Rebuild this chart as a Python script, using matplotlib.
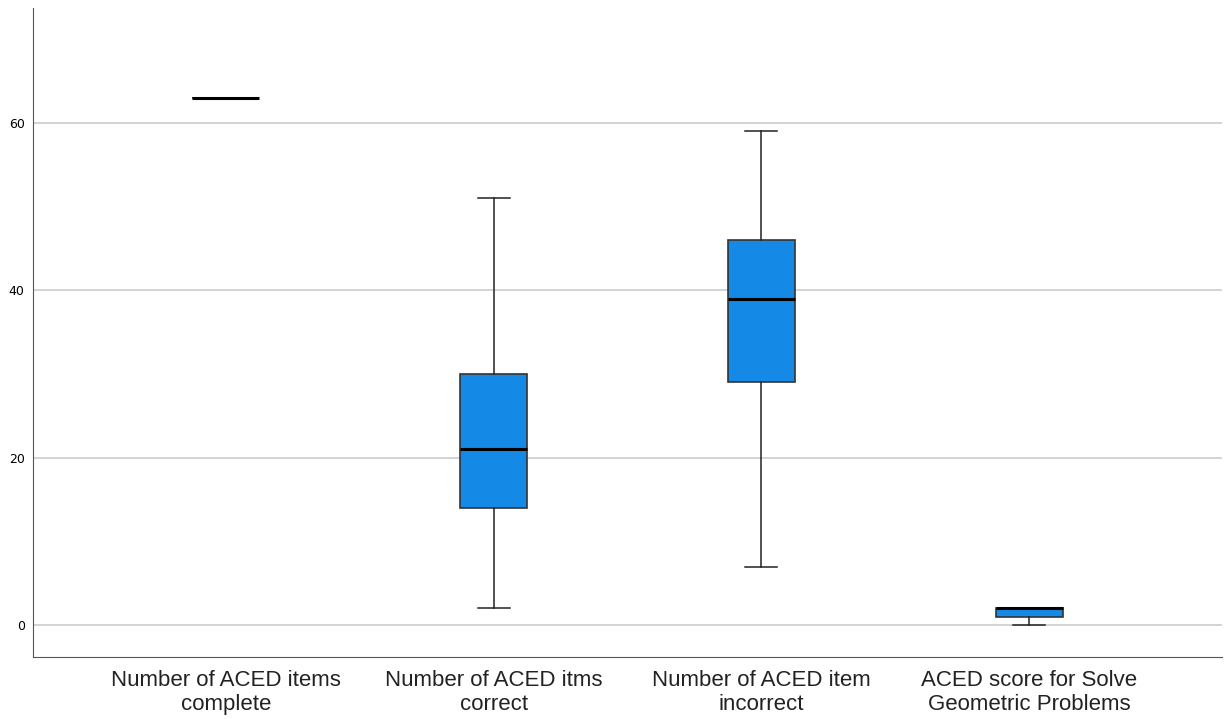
import matplotlib.pyplot as plt

plt.rcParams['font.family'] = ['Liberation Sans', 'DejaVu Sans']

labels = ["Number of ACED items\ncomplete", "Number of ACED itms\ncorrect",
          "Number of ACED item\nincorrect", "ACED score for Solve\nGeometric Problems"]
whislo = [63, 2, 7, 0]
q1 = [63, 14, 29, 1]
med = [63, 21, 39, 2]
q3 = [63, 30, 46, 2]
whishi = [63, 51, 59, 2]

stats = []
for i in range(len(labels)):
    stats.append({'label': labels[i], 'whislo': whislo[i], 'q1': q1[i], 'med': med[i],
                  'q3': q3[i], 'whishi': whishi[i], 'fliers': []})

fig = plt.figure(figsize=(12.25, 7.19), dpi=100)
ax = fig.add_axes([33 / 1225, 62 / 719, 1189 / 1225, 649 / 719])

ax.grid(axis='y', color='#cccccc', linewidth=1.2, zorder=0)
ax.set_axisbelow(True)

ax.bxp(stats, positions=[1, 2, 3, 4], widths=0.25, patch_artist=True, showfliers=False,
       boxprops=dict(facecolor='#1589e6', edgecolor='#333333', linewidth=1.2),
       medianprops=dict(color='black', linewidth=2.2),
       whiskerprops=dict(color='#222222', linewidth=1.1),
       capprops=dict(color='#222222', linewidth=1.1),
       capwidths=0.12)

ax.set_xlim(0.28, 4.72)
ax.set_ylim(-3.8, 73.7)
ax.set_yticks([0, 20, 40, 60])
ax.tick_params(axis='both', length=0)
ax.tick_params(axis='y', pad=6)
for t in ax.get_yticklabels():
    t.set_fontfamily('DejaVu Sans')
    t.set_fontsize(9)
ax.tick_params(axis='x', labelsize=16, pad=9)
for t in ax.get_xticklabels():
    t.set_linespacing(1.2)
    t.set_color('#222222')

for s in ['top', 'right']:
    ax.spines[s].set_visible(False)
for s in ['left', 'bottom']:
    ax.spines[s].set_color('#555555')

fig.savefig('out.png', dpi=100)
